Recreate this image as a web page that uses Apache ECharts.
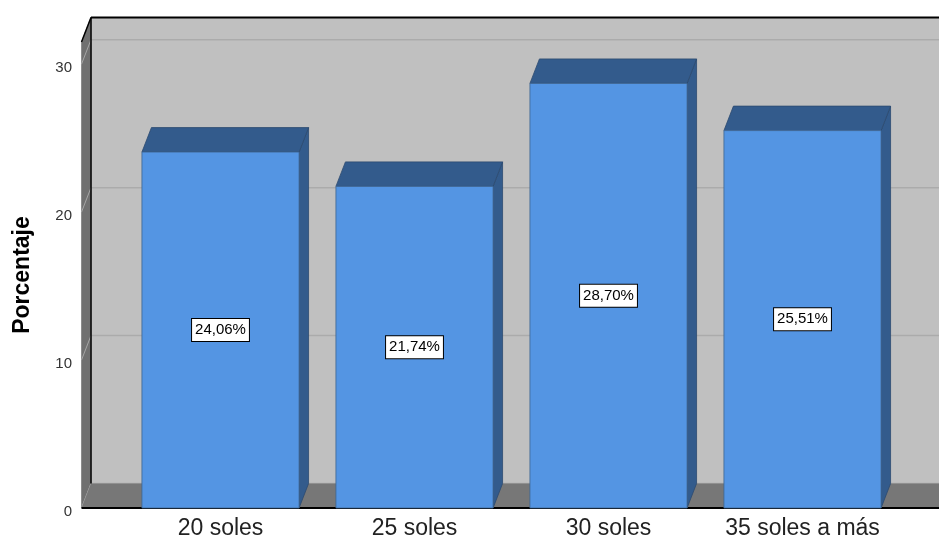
<!DOCTYPE html>
<html>
<head>
<meta charset="utf-8">
<script src="https://cdn.jsdelivr.net/npm/echarts@6/dist/echarts.min.js"></script>
<style>html,body{margin:0;padding:0;background:#fff;}#c{width:939px;height:540px;}</style>
</head>
<body>
<div id="c"></div>
<script>
const categories = ['20 soles', '25 soles', '30 soles', '35 soles a más'];
const percentages = [24.06, 21.74, 28.70, 25.51];
const yTicks = [0, 10, 20, 30];

const FONT = "'Liberation Sans', Arial, sans-serif";
const DX = 9.5, DY = -24.5;     // depth offset
const WALL_PAD = 0.2165;        // extra floor beyond first/last band (fraction of band)
const BAR_FRAC = 0.81;

function fmt(v) { return v.toFixed(2).replace('.', ',') + '%'; }

const chart = echarts.init(document.getElementById('c'), null, { renderer: 'canvas' });

function renderWalls(params, api) {
  const cs = params.coordSys;
  const band = api.size([1, 0])[0];
  const xl = cs.x - band * WALL_PAD;
  const xr = cs.x + cs.width + band * WALL_PAD;
  const y0 = api.coord([0, 0])[1];
  const yTop = cs.y;
  const children = [];
  children.push({ type: 'polygon', shape: { points: [[xl + DX, yTop + DY], [xr + DX + 20, yTop + DY], [xr + DX + 20, y0 + DY], [xl + DX, y0 + DY]] },
    style: { fill: '#c0c0c0' } });
  yTicks.forEach(function (t) {
    const yy = api.coord([0, t])[1];
    children.push({ type: 'line', shape: { x1: xl + DX, y1: yy + DY, x2: xr + DX + 20, y2: yy + DY }, style: { stroke: '#ababab', lineWidth: 1.5 } });
  });
  children.push({ type: 'polygon', shape: { points: [[xl, yTop], [xl + DX, yTop + DY], [xl + DX, y0 + DY], [xl, y0]] },
    style: { fill: '#707070', stroke: '#8c8c8c', lineWidth: 1 } });
  yTicks.forEach(function (t) {
    const yy = api.coord([0, t])[1];
    children.push({ type: 'line', shape: { x1: xl, y1: yy, x2: xl + DX, y2: yy + DY }, style: { stroke: '#a6a6a6', lineWidth: 1 } });
  });
  children.push({ type: 'polygon', shape: { points: [[xl, y0], [xl + DX, y0 + DY], [xr + DX + 20, y0 + DY], [xr + 20, y0]] },
    style: { fill: '#777777' } });
  children.push({ type: 'line', shape: { x1: xl + DX, y1: yTop + DY, x2: xl + DX, y2: y0 + DY }, style: { stroke: '#000', lineWidth: 1.5 } });
  children.push({ type: 'line', shape: { x1: xl, y1: yTop, x2: xl + DX, y2: yTop + DY }, style: { stroke: '#000', lineWidth: 1.5 } });
  children.push({ type: 'line', shape: { x1: xl + DX, y1: yTop + DY, x2: xr + DX + 20, y2: yTop + DY }, style: { stroke: '#000', lineWidth: 2 } });
  children.push({ type: 'line', shape: { x1: xl, y1: y0, x2: xr + 20, y2: y0 }, style: { stroke: '#000', lineWidth: 2 } });
  return { type: 'group', children: children };
}

function renderBar(params, api) {
  const idx = api.value(0);
  const val = api.value(1);
  const base = api.coord([idx, 0]);
  const top = api.coord([idx, val]);
  const band = api.size([1, 0])[0];
  const w = band * BAR_FRAC;
  const x0 = base[0] - w / 2;
  const x1 = x0 + w;
  const yt = top[1], yb = base[1];
  const edge = '#2c4a70';
  return {
    type: 'group',
    children: [
      { type: 'polygon', shape: { points: [[x1, yt], [x1 + DX, yt + DY], [x1 + DX, yb + DY], [x1, yb]] },
        style: { fill: '#335b8c', stroke: edge, lineWidth: 0.8 } },
      { type: 'polygon', shape: { points: [[x0, yt], [x0 + DX, yt + DY], [x1 + DX, yt + DY], [x1, yt]] },
        style: { fill: '#335b8c', stroke: edge, lineWidth: 0.8 } },
      { type: 'rect', shape: { x: x0, y: yt, width: w, height: yb - yt },
        style: { fill: '#5495e3', stroke: '#3f6590', lineWidth: 0.8 } },
      { type: 'text', x: x0 + w / 2, y: (yt + yb) / 2,
        style: { text: fmt(val), align: 'center', verticalAlign: 'middle', fill: '#000',
          font: '15px ' + FONT, backgroundColor: '#fff', borderColor: '#000', borderWidth: 1,
          padding: [4, 3, 3, 3] } }
    ]
  };
}

const option = {
  animation: false,
  backgroundColor: '#fff',
  grid: { left: 123.5, right: 39.5, top: 42, bottom: 32, containLabel: false },
  xAxis: {
    type: 'category',
    data: categories,
    axisLine: { show: false },
    axisTick: { show: false },
    splitLine: { show: false },
    axisLabel: { interval: 0, fontSize: 23, color: '#222', fontFamily: FONT, margin: 9 }
  },
  yAxis: {
    type: 'value',
    min: 0, max: 31.5, interval: 10,
    offset: 42.5,
    name: 'Porcentaje',
    nameLocation: 'middle',
    nameGap: 47,
    nameTextStyle: { fontSize: 23, fontWeight: 'bold', color: '#000', fontFamily: FONT },
    axisLine: { show: false },
    axisTick: { show: false },
    splitLine: { show: false },
    axisLabel: {
      fontSize: 15, color: '#333', fontFamily: FONT, margin: 9, showMaxLabel: false,
      formatter: '{a|{value}}',
      rich: { a: { fontSize: 15, color: '#333', fontFamily: FONT, padding: [7, 0, 0, 0] } }
    }
  },
  series: [
    { type: 'custom', z: 1, clip: false, silent: true, renderItem: renderWalls, data: [[0, 0]] },
    { type: 'custom', z: 2, clip: false, renderItem: renderBar,
      data: percentages.map(function (v, i) { return [i, v]; }) }
  ]
};
chart.setOption(option);
</script>
</body>
</html>
